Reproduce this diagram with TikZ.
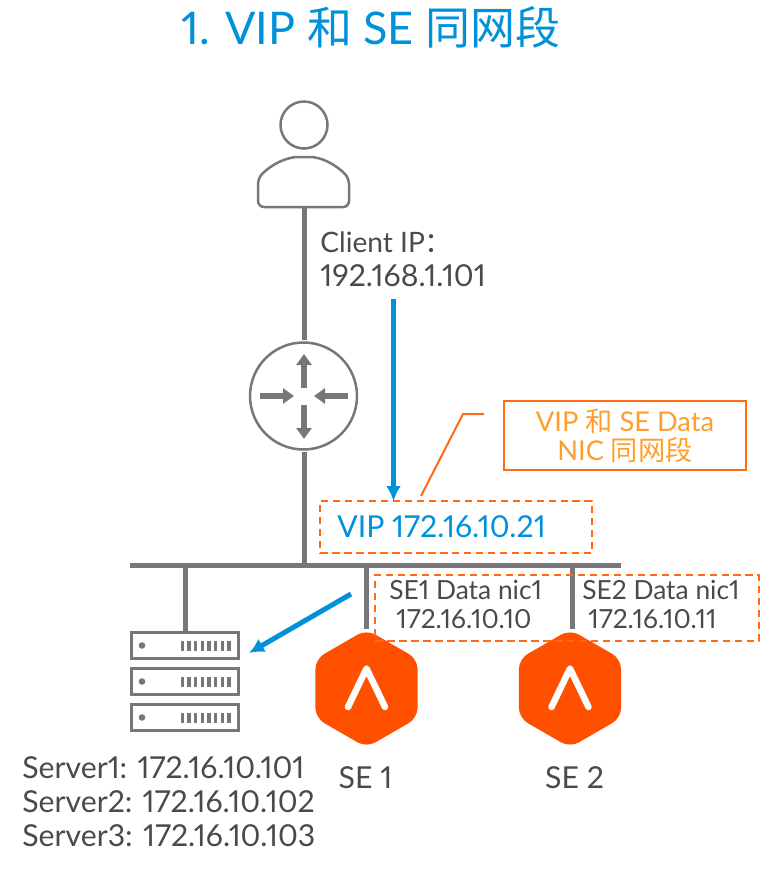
\documentclass[tikz,border=0pt]{standalone}
\usepackage{fontspec}
\setmainfont{Lato}[Numbers=Proportional]
\newfontfamily\cjk{Noto Sans CJK SC}
\usetikzlibrary{arrows.meta,shapes.geometric}
\definecolor{wiregray}{HTML}{77767B}
\definecolor{textgray}{HTML}{4A4A4D}
\definecolor{vmblue}{HTML}{0091DA}
\definecolor{seorange}{HTML}{FF5000}
\definecolor{boxorange}{HTML}{FF6A13}
\definecolor{noteorange}{HTML}{FF9E2C}
\tikzset{
wire/.style={draw=wiregray,line width=0.1cm},
flow/.style={draw=vmblue,line width=0.1cm,-{Latex[length=0.3cm,width=0.3cm]}},
tip/.style={draw=wiregray,line width=0.12cm,-{Triangle[length=0.22cm,width=0.3cm]}},
dashbox/.style={draw=boxorange,line width=0.045cm,dash pattern=on 0.15cm off 0.09cm,inner sep=0pt},
srv/.style={draw=wiregray,line width=0.07cm,fill=white,minimum width=2.14cm,minimum height=0.52cm,inner sep=0pt},
se/.style={regular polygon,regular polygon sides=6,shape border rotate=30,fill=seorange,rounded corners=0.2cm,minimum size=2.36cm,inner sep=0pt},
lab/.style={text=textgray,font=\fontsize{17.2}{19.4}\selectfont,anchor=west,inner sep=0pt},
nic/.style={lab,font=\fontsize{15}{19.4}\selectfont},
}
\begin{document}
\begin{tikzpicture}[x=0.02cm,y=-0.02cm]
\useasboundingbox (0,0) rectangle (780,872);
\node[text=vmblue,font=\fontsize{25.6}{28}\selectfont,inner sep=0pt] (title) at (371,27) {1. VIP {\cjk 和} SE {\cjk 同网段}};

\node[circle,draw=wiregray,line width=0.05cm,minimum size=0.94cm,inner sep=0pt] (head) at (304,125) {};
\draw[draw=wiregray,line width=0.05cm,rounded corners=0.12cm] (258,207) -- (258,178) .. controls (272,164) and (287,157) .. (304,157) .. controls (321,157) and (335,164) .. (349,178) -- (349,207) -- cycle;
\coordinate (client) at (304,207);
\node[circle,draw=wiregray,line width=0.05cm,minimum size=2.14cm,inner sep=0pt] (router) at (303.5,396) {};
\draw[tip] (304,388) -- (304,354);
\draw[tip] (304,405) -- (304,439);
\draw[tip] (260,396) -- (294,396);
\draw[tip] (348,396) -- (314,396);

\coordinate (busL) at (130,565);
\coordinate (busR) at (621,565);
\draw[wire] (client) -- (304,340);
\draw[wire] (304,452) -- (304,565);
\draw[wire] (busL) -- (busR);

\node[srv] (srv1) at (185,645.5) {};
\node[srv] (srv2) at (185,681.5) {};
\node[srv] (srv3) at (185,717.5) {};
\foreach \s in {1,2,3} {
\fill[wiregray] (srv\s.center) ++(-43,0) circle (3.3);
\foreach \t in {0,...,7}
\fill[wiregray] (srv\s.center) ++({-3+\t*6.7-1.5},-5) rectangle ++(3.4,10);
}
\draw[wire] (srv1.north |- busL) -- (srv1.north);

\node[se] (se1) at (366.5,688.5) {};
\node[se] (se2) at (570,688.5) {};
\foreach \s in {se1,se2}
\draw[white,line width=0.13cm,line cap=round,line join=round] (\s.center) ++(-18.5,18.5) -- ++(18.5,-38.5) -- ++(18.5,38.5);
\draw[wire] (se1.north |- busL) -- (se1.north);
\draw[wire] ([xshift=0.04cm]se2.north |- busL) -- ([xshift=0.04cm]se2.north);

\node[dashbox,minimum width=5.44cm,minimum height=1.04cm] (vipbox) at (456,527) {};
\node[dashbox,minimum width=7.68cm,minimum height=1.32cm] (nicbox) at (567,608) {};
\node[draw=boxorange,line width=0.045cm,minimum width=4.84cm,minimum height=1.38cm,inner sep=0pt,align=center,text=noteorange,font=\fontsize{15.5}{16.6}\selectfont] (note) at (625,435.5) {VIP {\cjk 和} SE Data\\NIC {\cjk 同网段}};
\coordinate (noteL) at (484,414);
\coordinate (noteK) at (463,414);
\coordinate (noteE) at (421,496);
\draw[draw=boxorange,line width=0.04cm] (noteL) -- (noteK) -- (noteE);

\coordinate (inA) at (393.5,299);
\coordinate (inB) at (393.5,501);
\draw[flow] (inA) -- (inB);
\coordinate (outA) at (351,594);
\coordinate (outB) at (249,653);
\draw[flow] (outA) -- (outB);

\node[lab,font=\fontsize{16}{19.4}\selectfont] (clientlab) at (320,242) {Client IP{\cjk ：}};
\node[lab] (clientip) at (320,276) {192.168.1.101};
\node[lab,text=vmblue] (vip) at (337,527) {VIP 172.16.10.21};
\node[nic] (nic1a) at (389,590) {SE1 Data nic1};
\node[nic] (nic1b) at (396,619) {172.16.10.10};
\node[nic] (nic2a) at (582,590) {SE2 Data nic1};
\node[nic] (nic2b) at (588,619) {172.16.10.11};
\node[lab,anchor=center] (se1lab) at (365.5,778) {SE 1};
\node[lab,anchor=center] (se2lab) at (574.5,778) {SE 2};
\node[lab] (s1) at (22,768) {Server1: 172.16.10.101};
\node[lab] (s2) at (22,802) {Server2: 172.16.10.102};
\node[lab] (s3) at (22,836) {Server3: 172.16.10.103};
\end{tikzpicture}
\end{document}
